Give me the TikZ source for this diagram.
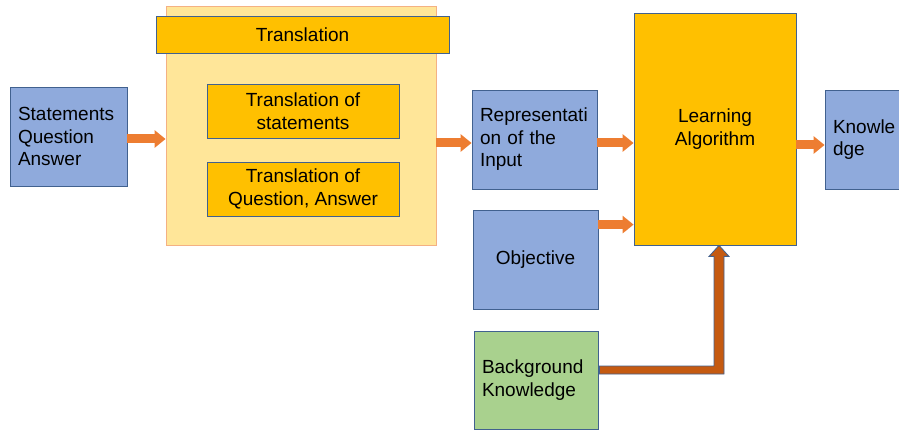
\documentclass[tikz,border=0pt]{standalone}
\usepackage{fontspec}
\setmainfont{Liberation Sans}
\usetikzlibrary{arrows.meta,calc}

\definecolor{boxblue}{HTML}{8FAADC}
\definecolor{edgeblue}{HTML}{41618F}
\definecolor{boxgold}{HTML}{FFC000}
\definecolor{paleyellow}{HTML}{FFE699}
\definecolor{paleorange}{HTML}{F4B183}
\definecolor{boxgreen}{HTML}{A9D18E}
\definecolor{arroworange}{HTML}{ED7D31}
\definecolor{darkorange}{HTML}{C55A11}

\tikzset{
  blk/.style={draw=edgeblue, line width=0.8pt, inner sep=0pt, align=center,
    font=\fontsize{19}{22.5}\selectfont},
  bluebox/.style={blk, fill=boxblue},
  goldbox/.style={blk, fill=boxgold},
  leftbox/.style={inner xsep=8pt, align=left},
  flow/.style={draw=arroworange, line width=9pt, -{Triangle[width=17pt,length=11pt]}},
  bgflow/.style={draw=edgeblue, line width=0.8pt, fill=darkorange}
}

\begin{document}
\begin{tikzpicture}[x=1pt,y=-1pt]
\clip (0,0) rectangle (899,430);

% inputs
\node[bluebox, leftbox, text width=101pt, minimum height=99pt] (stmt) at (68.5,136.5)
  {Statements\\Question\\Answer};

% translation block
\node[blk, draw=paleorange, fill=paleyellow, minimum width=270pt, minimum height=239pt] (trans) at (301,125.5) {};
\node[goldbox, minimum width=293pt, minimum height=37pt] (head) at (302.5,34.5) {Translation};
\node[goldbox, minimum width=192pt, minimum height=54pt] (tstmt) at (303,111) {Translation of\\statements};
\node[goldbox, minimum width=192pt, minimum height=54pt] (tqa) at (303,189) {Translation of\\Question, Answer};

% middle column
\node[bluebox, leftbox, text width=109pt, minimum height=99pt] (rep) at (534.5,139.5)
  {Representati\\on of the\\Input};
\node[bluebox, minimum width=125pt, minimum height=99pt] (obj) at (535.5,259.5) {Objective};
\node[blk, fill=boxgreen, leftbox, text width=108pt, minimum height=98pt] (bg) at (536,380)
  {Background\\Knowledge};

% learner and output
\node[goldbox, minimum width=162pt, minimum height=232pt] (learn) at (715,129) {Learning\\Algorithm};
\node[bluebox, leftbox, text width=109pt, minimum height=99pt] (know) at (887.5,139.5)
  {Knowle\\dge};

% arrows
\draw[flow] ([yshift=-2.5pt]stmt.east) -- ([yshift=-2.5pt]stmt.east -| trans.west);
\draw[flow] ([yshift=-3.5pt]trans.east |- rep.west) -- ([yshift=-3.5pt]rep.west);
\draw[flow] ([yshift=-3.5pt]rep.east) -- ([yshift=-3.5pt]rep.east -| learn.west);
\coordinate (o1) at ($(obj.north east)+(0,15)$);
\draw[flow] (o1) -- (o1 -| learn.west);
\draw[flow] ([yshift=-5.5pt]learn.east |- know.west) -- ([yshift=-5.5pt]know.west);

\coordinate (tip) at ($(learn.south)+(4,0)$);
\draw[bgflow] ($(bg.east)+(1,-14)$) -- ($(tip |- bg.east)+(-5,-14)$) -- ($(tip)+(-5,11)$)
  -- ($(tip)+(-10,11)$) -- (tip) -- ($(tip)+(10,11)$) -- ($(tip)+(5,11)$)
  -- ($(tip |- bg.east)+(5,-6)$) -- ($(bg.east)+(1,-6)$) -- cycle;

\end{tikzpicture}
\end{document}
